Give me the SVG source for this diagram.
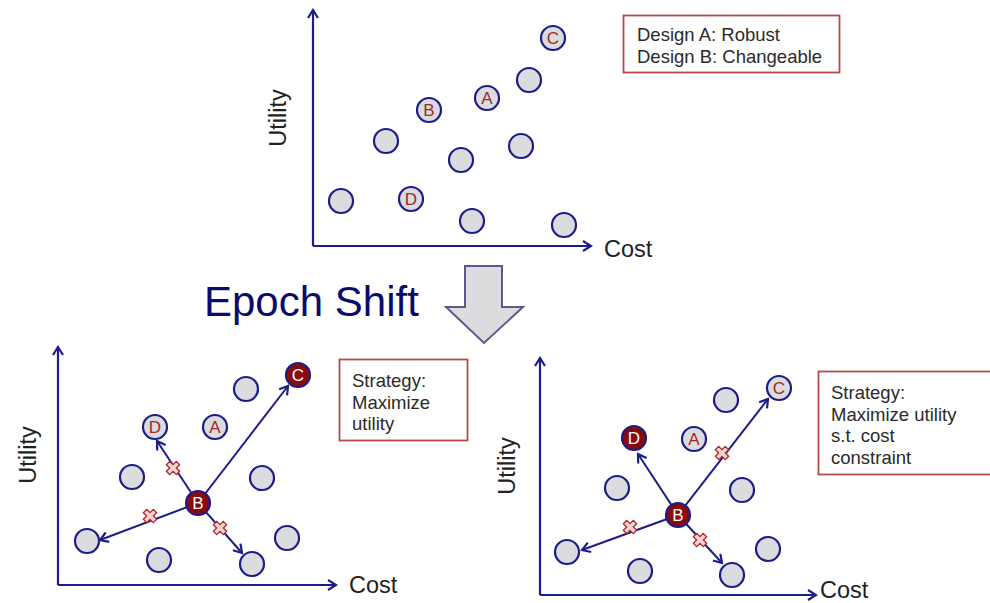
<svg xmlns="http://www.w3.org/2000/svg" width="990" height="603" viewBox="0 0 990 603">
  <style>
    .axis { stroke: #1c1c8a; stroke-width: 2.2; fill: none; }
    .edge { stroke: #1c1c8a; stroke-width: 2; fill: none; }
    .pt { fill: #dcdcdf; stroke: #1c1c8a; stroke-width: 2.2; }
    .sel { fill: #8a0a0a; stroke: #1c1c8a; stroke-width: 2.2; }
    .lbl { font-family: "Liberation Sans", Arial, sans-serif; font-size: 17px; fill: #a02828; text-anchor: middle; }
    .lbl-w { font-family: "Liberation Sans", Arial, sans-serif; font-size: 17px; fill: #ffffff; text-anchor: middle; }
    .axt { font-family: "Liberation Sans", Arial, sans-serif; font-size: 23.5px; fill: #222222; }
    .note { fill: #ffffff; stroke: #b44a4a; stroke-width: 1.8; }
    .nt { font-family: "Liberation Sans", Arial, sans-serif; font-size: 18.5px; fill: #2a2a2a; }
    .xm { fill: #f2d2d2; stroke: #a82a2a; stroke-width: 1.3; }
  </style>
  <defs>
    <marker id="chev" viewBox="0 0 12 12" refX="10" refY="6" markerWidth="12" markerHeight="12" markerUnits="userSpaceOnUse" orient="auto">
      <path d="M2,1 L10,6 L2,11" fill="none" stroke="#1c1c8a" stroke-width="2.2" stroke-linejoin="miter"/>
    </marker>
    <!-- blocked-transition cross -->
    <g id="xmark">
      <path class="xm" d="M-2.4,-7 L2.4,-7 L2.4,-2.4 L7,-2.4 L7,2.4 L2.4,2.4 L2.4,7 L-2.4,7 L-2.4,2.4 L-7,2.4 L-7,-2.4 L-2.4,-2.4 Z" transform="rotate(45)"/>
    </g>
  </defs>

  <!-- Top plot: design space before the shift -->
  <g id="top-axes">
    <path class="axis" d="M313,246 L313,10" marker-end="url(#chev)"/>
    <path class="axis" d="M313,246 L591,246" marker-end="url(#chev)"/>
    <text class="axt" x="604" y="257">Cost</text>
    <text class="axt" transform="translate(286,118) rotate(-90)" text-anchor="middle" font-size="24.5">Utility</text>
  </g>
  <g id="top-points">
    <g id="t-C"><circle class="pt" cx="553" cy="38" r="12"/><text class="lbl" x="553" y="44">C</text></g>
    <g id="t-p1"><circle class="pt" cx="529" cy="80" r="12"/></g>
    <g id="t-A"><circle class="pt" cx="487" cy="98" r="12"/><text class="lbl" x="487" y="104">A</text></g>
    <g id="t-B"><circle class="pt" cx="429" cy="110" r="12"/><text class="lbl" x="429" y="116">B</text></g>
    <g id="t-p2"><circle class="pt" cx="386" cy="141" r="12"/></g>
    <g id="t-p3"><circle class="pt" cx="461" cy="160" r="12"/></g>
    <g id="t-p4"><circle class="pt" cx="521" cy="146" r="12"/></g>
    <g id="t-p5"><circle class="pt" cx="341" cy="201" r="12"/></g>
    <g id="t-D"><circle class="pt" cx="411" cy="199" r="12"/><text class="lbl" x="411" y="205">D</text></g>
    <g id="t-p6"><circle class="pt" cx="472" cy="221" r="12"/></g>
    <g id="t-p7"><circle class="pt" cx="564" cy="225" r="12"/></g>
  </g>
  <g id="top-note">
    <rect class="note" x="623.5" y="15.5" width="216" height="57"/>
    <text class="nt" x="637" y="41">Design A: Robust</text>
    <text class="nt" x="637" y="63">Design B: Changeable</text>
  </g>

  <!-- Epoch shift label and block arrow -->
  <g id="shift">
    <text x="204" y="316" font-family="Liberation Sans, Arial, sans-serif" font-size="42" fill="#0b0b6e">Epoch Shift</text>
    <path d="M465,266 L502,266 L502,307 L523,307 L484,343 L446,307 L465,307 Z" fill="#dcdcdf" stroke="#5a5a8a" stroke-width="2"/>
  </g>

  <!-- Bottom-left plot: maximize utility -->
  <g id="bl-axes">
    <path class="axis" d="M58,585 L58,347" marker-end="url(#chev)"/>
    <path class="axis" d="M58,585 L336,585" marker-end="url(#chev)"/>
    <text class="axt" x="349" y="593">Cost</text>
    <text class="axt" transform="translate(36,455) rotate(-90)" text-anchor="middle">Utility</text>
  </g>
  <g id="bl-connectors">
    <path class="edge" d="M198,503 L288,386" marker-end="url(#chev)"/>
    <path class="edge" d="M198,503 L157,441" marker-end="url(#chev)"/>
    <path class="edge" d="M198,503 L100,540" marker-end="url(#chev)"/>
    <path class="edge" d="M198,503 L242,553" marker-end="url(#chev)"/>
    <use href="#xmark" x="173" y="468"/>
    <use href="#xmark" x="150" y="516"/>
    <use href="#xmark" x="220" y="528"/>
  </g>
  <g id="bl-points">
    <g id="bl-C"><circle class="sel" cx="298" cy="375" r="12"/><text class="lbl-w" x="298" y="381">C</text></g>
    <g id="bl-p1"><circle class="pt" cx="246" cy="389" r="12"/></g>
    <g id="bl-D"><circle class="pt" cx="155" cy="427" r="12"/><text class="lbl" x="155" y="433">D</text></g>
    <g id="bl-A"><circle class="pt" cx="215" cy="427" r="12"/><text class="lbl" x="215" y="433">A</text></g>
    <g id="bl-p2"><circle class="pt" cx="132" cy="477" r="12"/></g>
    <g id="bl-p3"><circle class="pt" cx="262" cy="478" r="12"/></g>
    <g id="bl-B"><circle class="sel" cx="198" cy="503" r="12"/><text class="lbl-w" x="198" y="509">B</text></g>
    <g id="bl-p4"><circle class="pt" cx="87" cy="541" r="12"/></g>
    <g id="bl-p5"><circle class="pt" cx="287" cy="538" r="12"/></g>
    <g id="bl-p6"><circle class="pt" cx="159" cy="560" r="12"/></g>
    <g id="bl-p7"><circle class="pt" cx="252" cy="564" r="12"/></g>
  </g>
  <g id="bl-note">
    <rect class="note" x="339.5" y="359.5" width="128" height="81"/>
    <text class="nt" x="352" y="387">Strategy:</text>
    <text class="nt" x="352" y="409">Maximize</text>
    <text class="nt" x="352" y="430">utility</text>
  </g>

  <!-- Bottom-right plot: maximize utility under a cost constraint -->
  <g id="br-axes">
    <path class="axis" d="M540,595 L540,358" marker-end="url(#chev)"/>
    <path class="axis" d="M540,595 L816,595" marker-end="url(#chev)"/>
    <text class="axt" x="820" y="598">Cost</text>
    <text class="axt" transform="translate(515,466) rotate(-90)" text-anchor="middle">Utility</text>
  </g>
  <g id="br-connectors">
    <path class="edge" d="M678,515 L768,399" marker-end="url(#chev)"/>
    <path class="edge" d="M678,515 L638,454" marker-end="url(#chev)"/>
    <path class="edge" d="M678,515 L582,550" marker-end="url(#chev)"/>
    <path class="edge" d="M678,515 L722,563" marker-end="url(#chev)"/>
    <use href="#xmark" x="722" y="453"/>
    <use href="#xmark" x="630" y="527"/>
    <use href="#xmark" x="700" y="540"/>
  </g>
  <g id="br-points">
    <g id="br-C"><circle class="pt" cx="779" cy="388" r="12"/><text class="lbl" x="779" y="394">C</text></g>
    <g id="br-p1"><circle class="pt" cx="726" cy="400" r="12"/></g>
    <g id="br-D"><circle class="sel" cx="634" cy="438" r="12"/><text class="lbl-w" x="634" y="444">D</text></g>
    <g id="br-A"><circle class="pt" cx="694" cy="439" r="12"/><text class="lbl" x="694" y="445">A</text></g>
    <g id="br-p2"><circle class="pt" cx="617" cy="488" r="12"/></g>
    <g id="br-p3"><circle class="pt" cx="742" cy="490" r="12"/></g>
    <g id="br-B"><circle class="sel" cx="678" cy="515" r="12"/><text class="lbl-w" x="678" y="521">B</text></g>
    <g id="br-p4"><circle class="pt" cx="567" cy="552" r="12"/></g>
    <g id="br-p5"><circle class="pt" cx="768" cy="549" r="12"/></g>
    <g id="br-p6"><circle class="pt" cx="640" cy="571" r="12"/></g>
    <g id="br-p7"><circle class="pt" cx="732" cy="575" r="12"/></g>
  </g>
  <g id="br-note">
    <rect class="note" x="818.5" y="371.5" width="175" height="103"/>
    <text class="nt" x="831" y="399">Strategy:</text>
    <text class="nt" x="831" y="421">Maximize utility</text>
    <text class="nt" x="831" y="442">s.t. cost</text>
    <text class="nt" x="831" y="464">constraint</text>
  </g>
</svg>
